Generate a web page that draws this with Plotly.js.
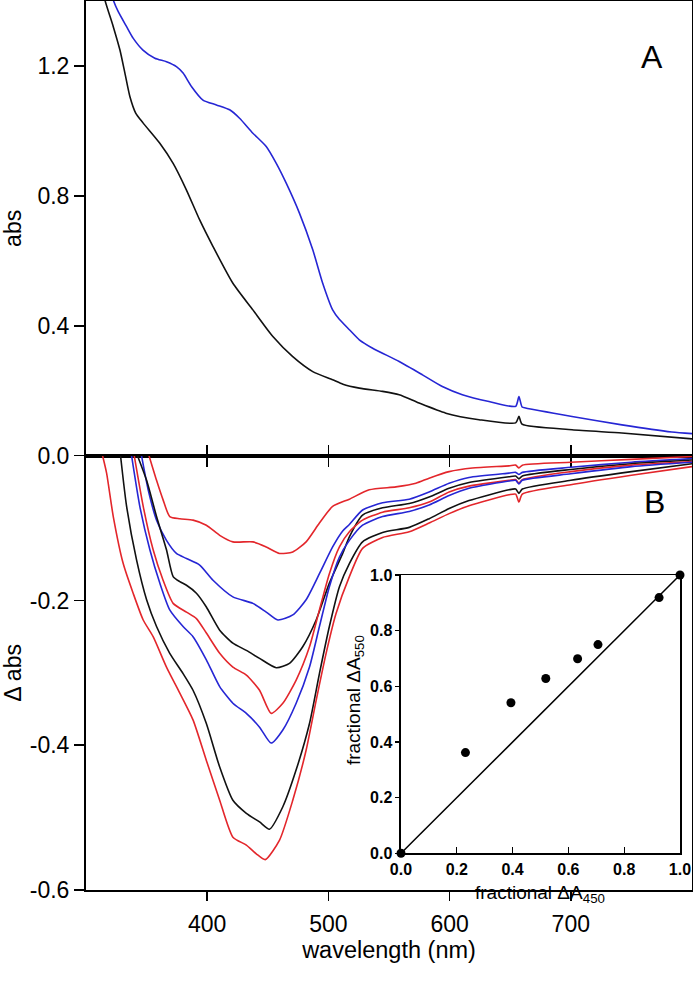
<!DOCTYPE html>
<html>
<head>
<meta charset="utf-8">
<script src="https://cdn.plot.ly/plotly-3.0.1.min.js"></script>
<style>
  html, body { margin: 0; padding: 0; background: #fff; }
  #chart { width: 693px; height: 987px; }
</style>
</head>
<body>
<div id="chart"></div>
<script>
// Panel A: absorbance spectra
const wlA_blue = [318, 322.5, 326.6, 333.5, 339, 347, 356.8, 366.4, 374.6, 380.1, 387, 396.5, 407.6, 418.5, 426.7, 437.7, 448.7, 457, 465.2, 476.1, 487.1, 495.3, 503.5, 509, 517.3, 525.5, 536.5, 558.4, 577.6, 594, 610.5, 632.5, 654.5, 657.2, 659.8, 662.7, 701, 742.2, 783.4, 800];
const absA_blue = [1.46, 1.403, 1.367, 1.321, 1.285, 1.249, 1.224, 1.213, 1.198, 1.178, 1.137, 1.095, 1.080, 1.065, 1.039, 0.993, 0.952, 0.900, 0.839, 0.747, 0.634, 0.531, 0.449, 0.420, 0.388, 0.357, 0.331, 0.290, 0.249, 0.213, 0.188, 0.167, 0.152, 0.182, 0.150, 0.147, 0.121, 0.095, 0.073, 0.068];

const wlA_black = [312, 315.6, 322.5, 328, 332.1, 336.2, 341, 347.2, 360.9, 371.9, 382.9, 393.8, 404.8, 421.2, 437.7, 454.2, 470.6, 487.1, 503.5, 512, 525.5, 544.7, 558.4, 574.9, 596.9, 624.3, 654.5, 657.2, 659.8, 701, 742.2, 800];
const absA_black = [1.47, 1.403, 1.321, 1.249, 1.178, 1.106, 1.055, 1.024, 0.962, 0.900, 0.818, 0.726, 0.644, 0.531, 0.449, 0.367, 0.305, 0.259, 0.234, 0.220, 0.208, 0.198, 0.188, 0.162, 0.131, 0.111, 0.101, 0.121, 0.097, 0.080, 0.070, 0.052];

// Panel B: difference spectra (top to bottom)
const wlB1 = [352, 358.2, 363.6, 369.1, 377.4, 388.3, 399.3, 410.3, 421.2, 437.7, 448.7, 459.7, 470.6, 481.6, 492.6, 503.5, 517.3, 533.7, 555.7, 572.2, 583.1, 599.6, 618.8, 649, 654.5, 657.2, 660, 700, 750, 800];
const dB1 = [0, -0.034, -0.061, -0.084, -0.087, -0.089, -0.096, -0.110, -0.119, -0.119, -0.126, -0.135, -0.133, -0.119, -0.093, -0.070, -0.060, -0.047, -0.043, -0.038, -0.031, -0.022, -0.017, -0.014, -0.013, -0.017, -0.013, -0.009, -0.005, -0.001];

const wlB2 = [345.8, 351.3, 358.2, 366.4, 374.6, 382.9, 393.8, 404.8, 421.2, 437.7, 448.7, 458.3, 470.6, 481.6, 492.6, 503.5, 511.8, 517.3, 528.2, 544.7, 566.7, 583.1, 599.6, 616, 649, 654.5, 657.2, 660, 700, 750, 800];
const dB2 = [0, -0.047, -0.089, -0.117, -0.135, -0.142, -0.151, -0.172, -0.195, -0.204, -0.216, -0.227, -0.220, -0.199, -0.163, -0.126, -0.104, -0.095, -0.075, -0.065, -0.060, -0.050, -0.038, -0.030, -0.024, -0.023, -0.026, -0.023, -0.016, -0.009, -0.004];

const wlB3 = [342.5, 350, 358.2, 366.4, 371.9, 377.4, 382.9, 391.1, 399.3, 410.3, 421.2, 432.3, 443.2, 457, 467.9, 478.8, 489.9, 500.8, 511.8, 517.3, 528.2, 544.7, 566.7, 583.1, 599.6, 616, 649, 654.5, 657.2, 660, 700, 750, 800];
const dB3 = [0, -0.034, -0.084, -0.130, -0.167, -0.174, -0.179, -0.190, -0.209, -0.241, -0.259, -0.269, -0.280, -0.293, -0.287, -0.264, -0.227, -0.176, -0.135, -0.112, -0.082, -0.072, -0.066, -0.057, -0.045, -0.037, -0.029, -0.028, -0.032, -0.028, -0.019, -0.011, -0.006];

const wlB4 = [339.8, 347.2, 355.4, 363.6, 371.9, 382.9, 391.1, 399.3, 410.3, 421.2, 432.3, 443.2, 452.8, 462.4, 473.4, 484.4, 492.6, 500.8, 509.1, 517.3, 528.2, 544.7, 566.7, 583.1, 599.6, 616, 649, 654.5, 657.2, 660, 700, 750, 800];
const dB4 = [0, -0.070, -0.130, -0.172, -0.204, -0.216, -0.225, -0.245, -0.273, -0.292, -0.303, -0.324, -0.356, -0.342, -0.310, -0.264, -0.213, -0.163, -0.126, -0.105, -0.089, -0.078, -0.072, -0.064, -0.050, -0.042, -0.034, -0.033, -0.038, -0.033, -0.022, -0.013, -0.008];

const wlB5 = [337.6, 344.4, 352.7, 360.9, 369.1, 380.1, 388.3, 399.3, 410.3, 421.2, 432.3, 443.2, 452.8, 462.4, 473.4, 484.4, 492.6, 500.8, 509.1, 517.3, 528.2, 544.7, 566.7, 583.1, 599.6, 616, 649, 654.5, 657.2, 660, 700, 750, 800];
const dB5 = [0, -0.070, -0.130, -0.176, -0.213, -0.236, -0.250, -0.282, -0.319, -0.342, -0.356, -0.375, -0.397, -0.379, -0.342, -0.292, -0.236, -0.181, -0.140, -0.117, -0.096, -0.084, -0.077, -0.068, -0.055, -0.045, -0.035, -0.034, -0.039, -0.034, -0.025, -0.015, -0.009];

const wlB6 = [328.5, 333.5, 341.7, 350, 358.2, 369.1, 380.1, 388.3, 399.3, 410.3, 421.2, 432.3, 443.2, 451.4, 462.4, 473.4, 484.4, 492.6, 500.8, 509.1, 517.3, 528.2, 544.7, 566.7, 583.1, 599.6, 616, 649, 654.5, 657.2, 660, 700, 750, 800];
const dB6 = [0, -0.070, -0.144, -0.199, -0.236, -0.273, -0.301, -0.324, -0.370, -0.430, -0.476, -0.494, -0.506, -0.516, -0.485, -0.434, -0.370, -0.301, -0.236, -0.181, -0.149, -0.119, -0.106, -0.099, -0.087, -0.073, -0.062, -0.047, -0.046, -0.052, -0.046, -0.034, -0.022, -0.011];

const wlB7 = [313.7, 317, 322.5, 330.7, 338.9, 347.2, 355.4, 366.4, 377.4, 388.3, 399.3, 410.3, 421.2, 432.3, 440.5, 447.9, 459.7, 470.6, 481.6, 489.9, 498.1, 506.3, 517.3, 528.2, 544.7, 566.7, 583.1, 599.6, 616, 649, 654.5, 657.2, 660, 700, 750, 800];
const dB7 = [0, -0.024, -0.084, -0.149, -0.190, -0.227, -0.250, -0.292, -0.328, -0.365, -0.421, -0.476, -0.527, -0.538, -0.550, -0.558, -0.531, -0.476, -0.407, -0.338, -0.273, -0.218, -0.167, -0.128, -0.113, -0.105, -0.093, -0.080, -0.069, -0.054, -0.053, -0.064, -0.053, -0.040, -0.027, -0.015];

// Inset: fractional changes
const fracA450 = [0, 0.231, 0.394, 0.519, 0.633, 0.706, 0.925, 1.0];
const fracA550 = [0, 0.362, 0.541, 0.628, 0.699, 0.750, 0.919, 1.0];
const unityLine = [0, 1];

// Tick labels
const wlTicks = [400, 500, 600, 700];
const absTicks = [0.4, 0.8, 1.2];
const absTickText = ['0.4', '0.8', '1.2'];
const dAbsTicks = [0, -0.2, -0.4, -0.6];
const dAbsTickText = ['0.0', '-0.2', '-0.4', '-0.6'];
const fracTicks = [0, 0.2, 0.4, 0.6, 0.8, 1.0];
const fracTickText = ['0.0', '0.2', '0.4', '0.6', '0.8', '1.0'];

const RED = '#e3262b';
const BLUE = '#2626d4';
const BLACK = '#111111';
const FONT = 'Liberation Sans, Arial, sans-serif';

function spectrum(x, y, color, xa, ya) {
    return {
        x: x, y: y, xaxis: xa, yaxis: ya,
        type: 'scatter', mode: 'lines',
        line: { color: color, width: 1.6, shape: 'spline', smoothing: 0.6 },
        hoverinfo: 'skip'
    };
}

const traces = [
    spectrum(wlA_black, absA_black, BLACK, 'x', 'y'),
    spectrum(wlA_blue, absA_blue, BLUE, 'x', 'y'),
    spectrum(wlB1, dB1, RED, 'x2', 'y2'),
    spectrum(wlB2, dB2, BLUE, 'x2', 'y2'),
    spectrum(wlB3, dB3, BLACK, 'x2', 'y2'),
    spectrum(wlB4, dB4, RED, 'x2', 'y2'),
    spectrum(wlB5, dB5, BLUE, 'x2', 'y2'),
    spectrum(wlB6, dB6, BLACK, 'x2', 'y2'),
    spectrum(wlB7, dB7, RED, 'x2', 'y2'),
    {
        x: unityLine, y: unityLine, xaxis: 'x3', yaxis: 'y3',
        type: 'scatter', mode: 'lines',
        line: { color: '#000', width: 1.5 }
    },
    {
        x: fracA450, y: fracA550, xaxis: 'x3', yaxis: 'y3',
        type: 'scatter', mode: 'markers', cliponaxis: false,
        marker: { color: '#000', size: 9 }
    }
];

const axisBase = {
    showline: true, linecolor: '#000', linewidth: 2,
    showgrid: false, zeroline: false,
    tickcolor: '#000', tickwidth: 1.5,
    tickfont: { family: FONT, size: 23, color: '#000' }
};

const insetAxis = {
    showline: true, linecolor: '#000', linewidth: 1.5, mirror: true,
    showgrid: false, zeroline: false, range: [0, 1],
    tickvals: fracTicks,
    ticktext: fracTickText.map(t => '<b>' + t + '</b>'),
    tickwidth: 1.2, tickcolor: '#000',
    tickfont: { family: FONT, size: 16, color: '#000' }
};

const SPLIT = 0.4885;

const layout = {
    width: 693,
    height: 987,
    margin: { l: 86, r: 1, t: 1, b: 97 },
    paper_bgcolor: '#fff',
    plot_bgcolor: '#fff',
    showlegend: false,
    font: { family: FONT, color: '#000' },
    xaxis: Object.assign({}, axisBase, {
        anchor: 'y', domain: [0, 1], range: [300, 800],
        tickvals: wlTicks, showticklabels: false,
        ticks: 'outside', ticklen: 9, mirror: true
    }),
    yaxis: Object.assign({}, axisBase, {
        anchor: 'x', domain: [SPLIT, 1], range: [0, 1.4],
        tickvals: absTicks, ticktext: absTickText,
        ticks: 'outside', ticklen: 10, mirror: true,
        title: { text: 'abs', font: { family: FONT, size: 23 }, standoff: 14 }
    }),
    xaxis2: Object.assign({}, axisBase, {
        anchor: 'y2', domain: [0, 1], range: [300, 800],
        tickvals: wlTicks, ticks: 'outside', ticklen: 9, mirror: 'ticks',
        ticklabelstandoff: 3,
        title: { text: 'wavelength (nm)', font: { family: FONT, size: 23.5 }, standoff: 6 }
    }),
    yaxis2: Object.assign({}, axisBase, {
        anchor: 'x2', domain: [0, SPLIT], range: [-0.6, 0],
        tickvals: dAbsTicks, ticktext: dAbsTickText,
        ticks: 'outside', ticklen: 10, mirror: true,
        title: { text: 'Δ abs', font: { family: FONT, size: 23 }, standoff: 14 }
    }),
    xaxis3: Object.assign({}, insetAxis, {
        anchor: 'y3', domain: [0.5198, 0.9802],
        ticks: 'inside', ticklen: 6, ticklabelstandoff: 1
    }),
    yaxis3: Object.assign({}, insetAxis, {
        anchor: 'x3', domain: [0.0413, 0.3543],
        ticks: 'outside', ticklen: 4, ticklabelstandoff: 0
    }),
    annotations: [
        { text: 'A', xref: 'paper', yref: 'paper', x: 0.955, y: 0.9595, showarrow: false,
          font: { family: FONT, size: 32, color: '#000' } },
        { text: 'B', xref: 'paper', yref: 'paper', x: 0.959, y: 0.4365, showarrow: false,
          font: { family: FONT, size: 32, color: '#000' } },
        // inset axis titles
        { text: 'fractional ΔA<sub>450</sub>', xref: 'paper', yref: 'paper', x: 0.749, y: -0.004,
          xanchor: 'center', yanchor: 'middle', showarrow: false,
          font: { family: FONT, size: 19, color: '#000' } },
        { text: 'fractional ΔA<sub>550</sub>', xref: 'paper', yref: 'paper', x: 0.444, y: 0.2137,
          xanchor: 'center', yanchor: 'middle', textangle: -90, showarrow: false,
          font: { family: FONT, size: 19, color: '#000' } }
    ]
};

Plotly.newPlot('chart', traces, layout, { displayModeBar: false, staticPlot: true });
</script>
</body>
</html>
